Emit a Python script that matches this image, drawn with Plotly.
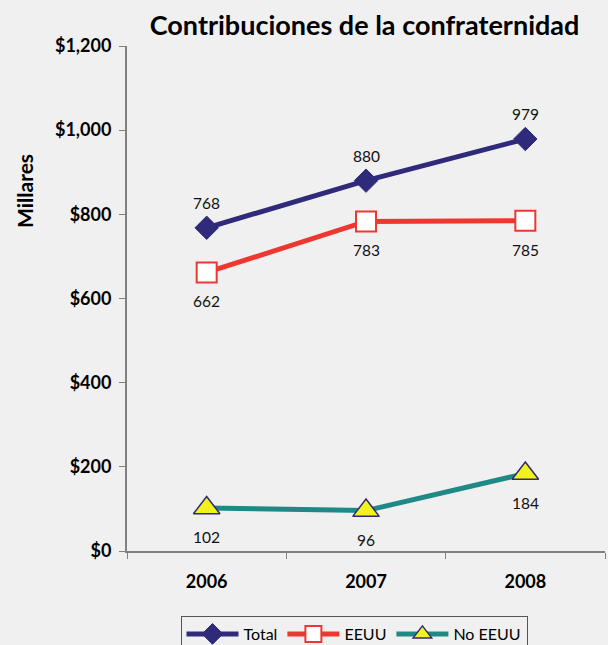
import plotly.graph_objects as go

years = ["2006", "2007", "2008"]
total = [768, 880, 979]
eeuu = [662, 783, 785]
no_eeuu = [102, 96, 184]
y_ticks = [0, 200, 400, 600, 800, 1000, 1200]

BG = "#f0f0f0"
FONT = "Lato, 'Open Sans', sans-serif"
NAVY = "#2f2a79"
RED = "#ef3731"
TEAL = "#1f8985"

fig = go.Figure()
fig.add_trace(go.Scatter(
    x=years, y=total, name="Total", mode="lines+markers",
    line=dict(color=NAVY, width=5),
    marker=dict(symbol="diamond", size=18, color=NAVY, line=dict(color=NAVY, width=1)),
))
fig.add_trace(go.Scatter(
    x=years, y=eeuu, name="EEUU", mode="lines+markers",
    line=dict(color=RED, width=5),
    marker=dict(symbol="square", size=20, color="white", line=dict(color=RED, width=2)),
))
fig.add_trace(go.Scatter(
    x=years, y=no_eeuu, name="No EEUU", mode="lines+markers",
    line=dict(color=TEAL, width=5),
    marker=dict(symbol="triangle-up", size=23, color="#f2f21e", line=dict(color=NAVY, width=1.5)),
))

annotations = []
for series, shift in ((total, 25), (eeuu, -29), (no_eeuu, -29)):
    for i, yv in enumerate(series):
        annotations.append(dict(x=i, y=yv, xref="x", yref="y", text=str(yv),
                                showarrow=False, yshift=shift,
                                font=dict(size=15.5, family=FONT, color="#111111")))

annotations.append(dict(text="<b>Millares</b>", x=(24 - 127) / 478, y=(551 - 191) / 505,
                        xref="paper", yref="paper", xanchor="center", yanchor="middle",
                        showarrow=False, textangle=-90,
                        font=dict(size=21, family=FONT, color="#000000")))

fig.update_layout(
    width=608, height=645,
    paper_bgcolor=BG, plot_bgcolor=BG,
    margin=dict(l=127, r=3, t=46, b=94, autoexpand=False),
    font=dict(family=FONT, color="#000000"),
    title=dict(text="<b>Contribuciones de la confraternidad</b>", xref="paper", x=0.497,
               xanchor="center", y=1 - 26 / 645, yanchor="middle",
               font=dict(size=27, family=FONT, color="#000000")),
    showlegend=True,
    legend=dict(orientation="h", x=(354 - 127) / 478, xanchor="center", y=-65 / 505, yanchor="top",
                bgcolor=BG, bordercolor="#555555", borderwidth=1, itemwidth=52,
                font=dict(size=16, family=FONT, color="#000000")),
    xaxis=dict(type="category", range=[-0.5, 2.5], tickson="boundaries",
               showline=True, linecolor="#808080", linewidth=2,
               ticks="outside", ticklen=6, tickcolor="#808080", tickwidth=1,
               showgrid=False, zeroline=False,
               tickfont=dict(size=18, family=FONT, color="#000000"),
               ticklabelstandoff=13, tickprefix="<b>", ticksuffix="</b>"),
    yaxis=dict(range=[0, 1200], tickvals=y_ticks,
               ticktext=["<b>$" + format(v, ",") + "</b>" for v in y_ticks],
               showline=True, linecolor="#808080", linewidth=2,
               ticks="outside", ticklen=6, tickcolor="#808080", tickwidth=1,
               showgrid=False, zeroline=False, ticklabelstandoff=4,
               tickfont=dict(size=18, family=FONT, color="#000000")),
    annotations=annotations,
)

fig.write_html("out.html", config={"displayModeBar": False},
               post_script="document.body.style.margin='0';document.body.style.overflow='hidden';")
